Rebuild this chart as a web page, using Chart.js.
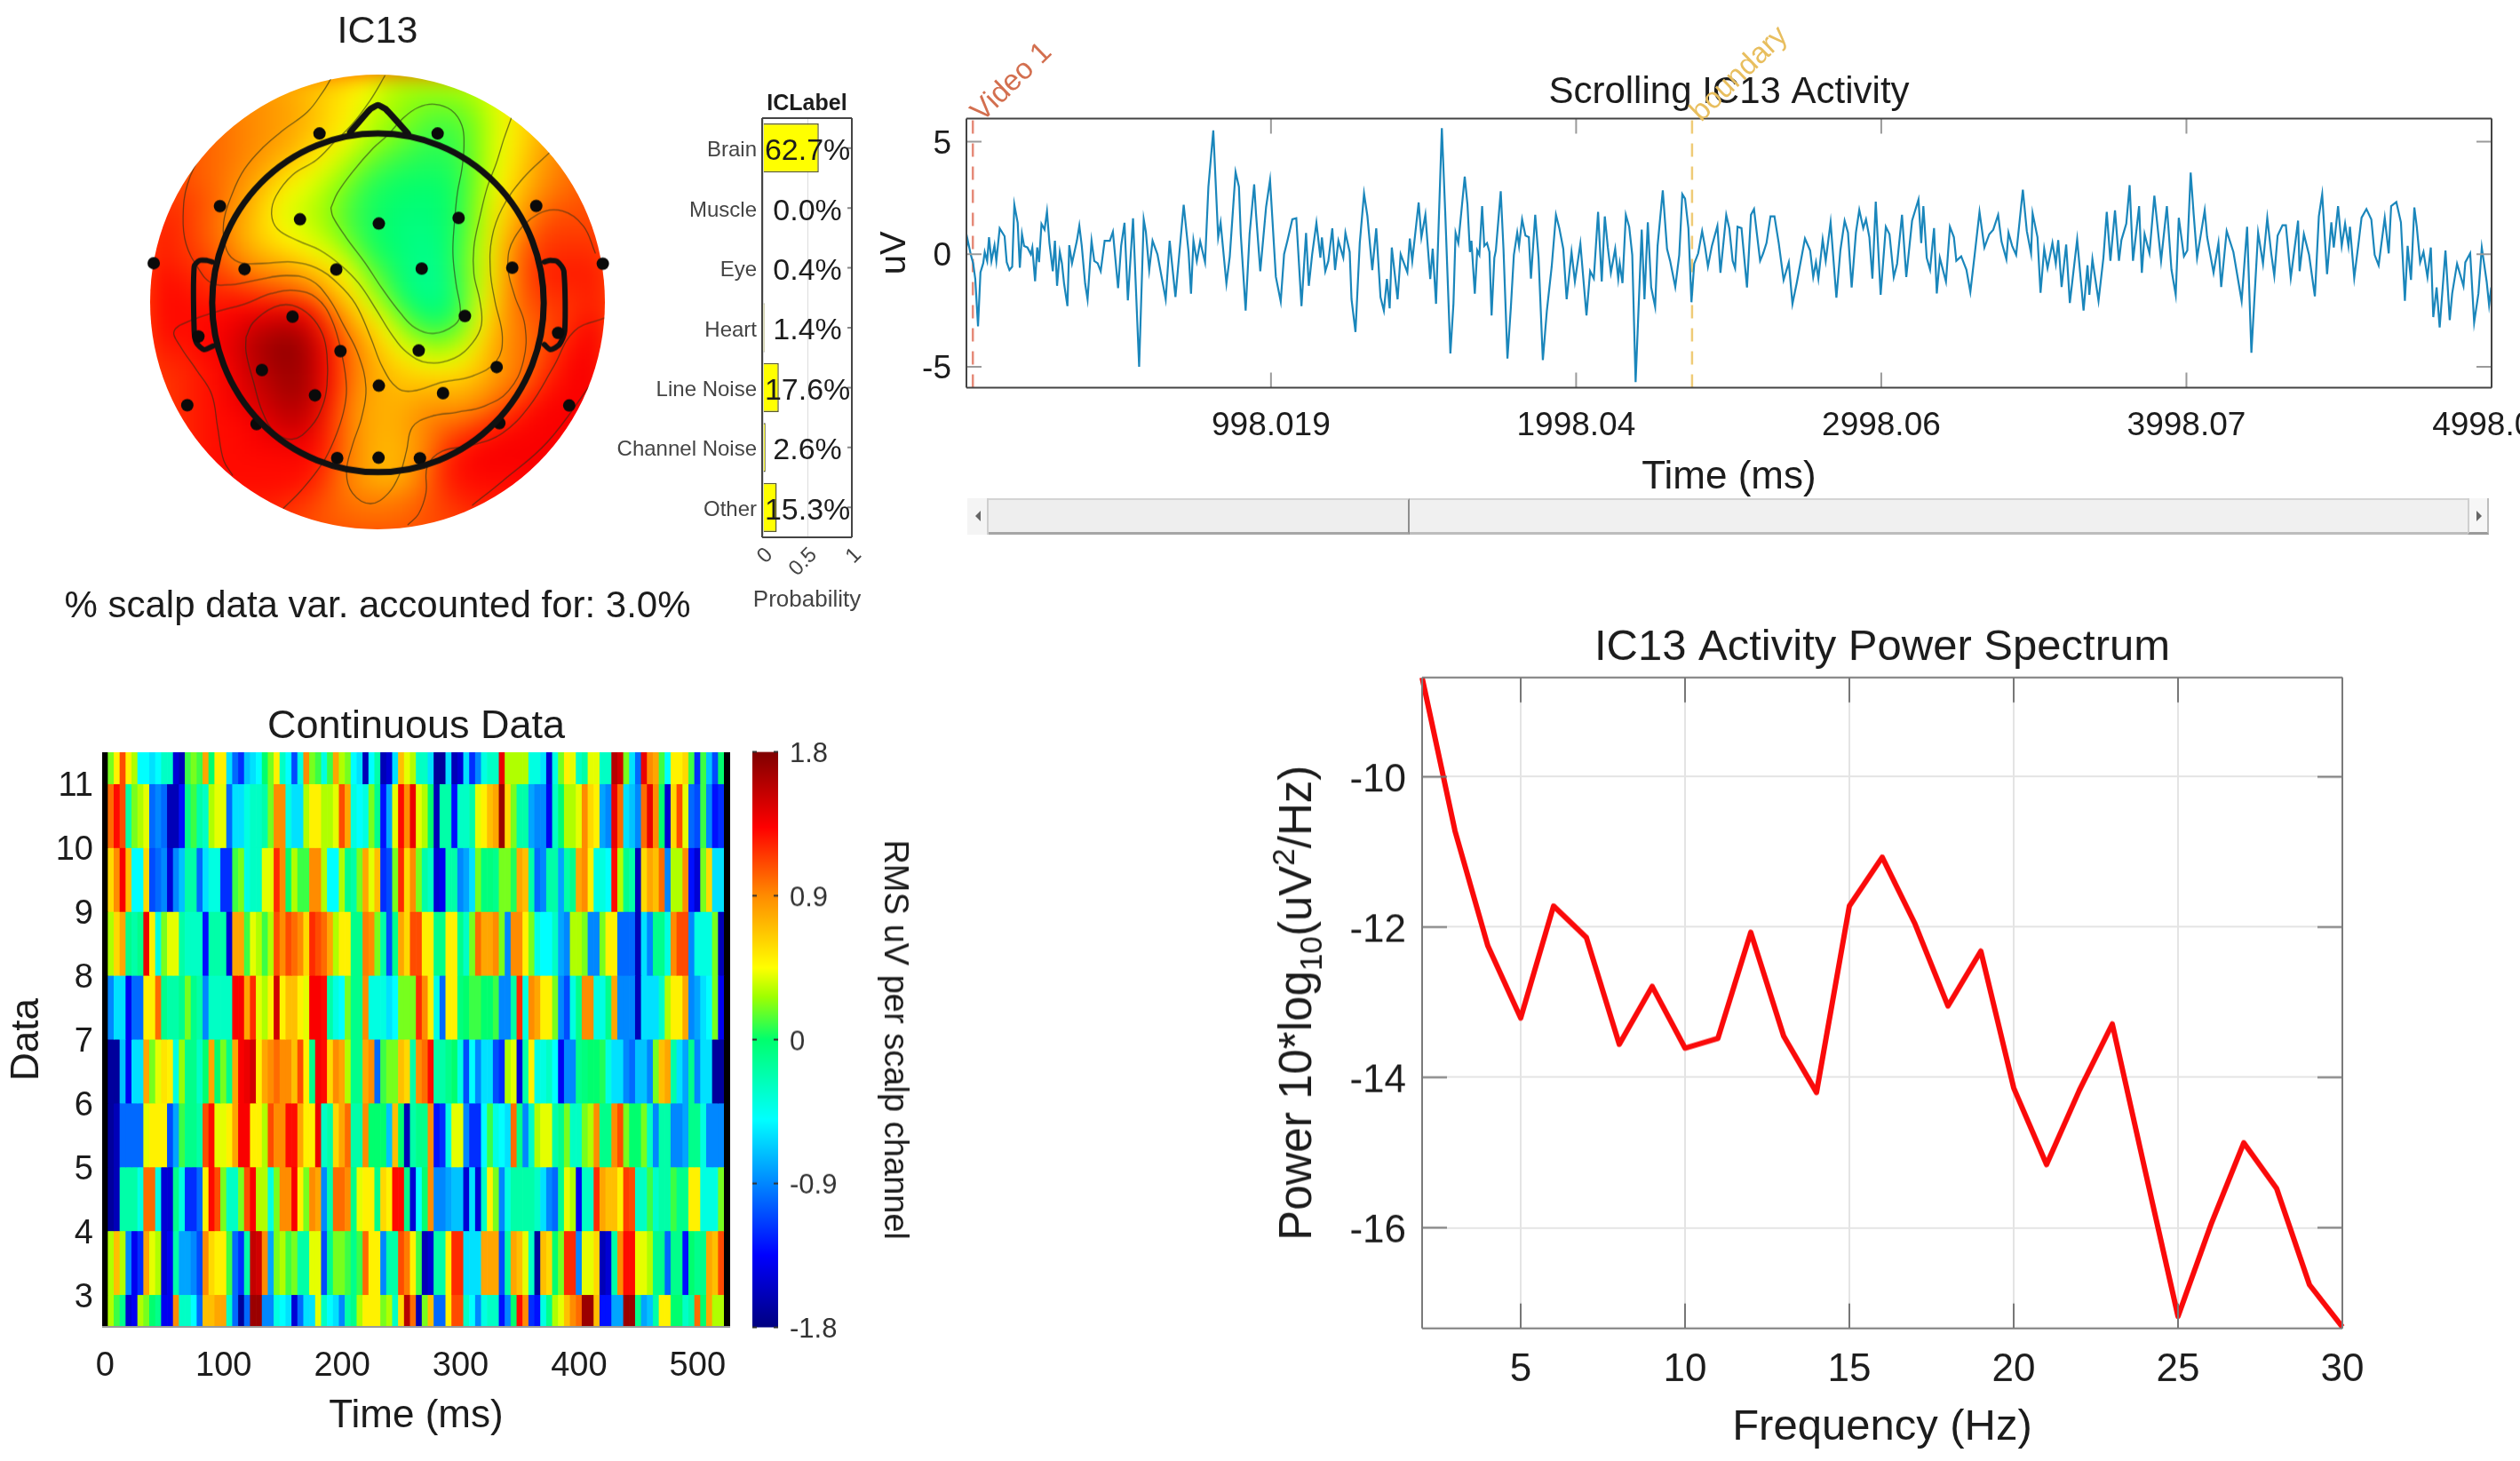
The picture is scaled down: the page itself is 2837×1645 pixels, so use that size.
<!DOCTYPE html>
<html>
<head>
<meta charset="utf-8">
<script src="https://cdn.jsdelivr.net/npm/chart.js@4/dist/chart.umd.min.js"></script>
<style>
  html, body { margin: 0; background: #fff; overflow: hidden; }
  #stage { position: relative; width: 2837px; height: 1645px; overflow: hidden; background: #fff; filter: blur(0.6px); }
  #stage canvas { position: absolute; }
  #topoClip { position: absolute; left: 169px; top: 84px; width: 512px; height: 512px; border-radius: 50%; overflow: hidden; }
  #topoClip canvas { filter: blur(13px); }
  .sb { position: absolute; box-sizing: border-box; background: #f0f0f0; }
  .arrow { position: absolute; width: 0; height: 0; border-top: 6px solid transparent; border-bottom: 6px solid transparent; }
</style>
</head>
<body>
<div id="stage">
  <div id="topoClip"></div>
  <div class="sb" style="left:1089px;top:561px;width:1713px;height:41px;border-top:2px solid #d4d4d4;border-bottom:3px solid #bdbdbd"></div>
  <div class="sb" style="left:1089px;top:561px;width:24px;height:41px;border-right:2px solid #cfcfcf;background:#f4f4f4"></div>
  <div class="sb" style="left:1113px;top:561px;width:474px;height:41px;border-top:2px solid #d4d4d4;border-right:2px solid #8e8e8e;border-bottom:3px solid #a6a6a6;background:#eeeeee"></div>
  <div class="sb" style="left:2778px;top:561px;width:24px;height:41px;border-left:2px solid #cfcfcf;border-right:2px solid #bdbdbd;border-bottom:3px solid #9a9a9a;background:#f6f6f6"></div>
  <div class="arrow" style="left:1098px;top:575px;border-right:6px solid #666"></div>
  <div class="arrow" style="left:2788px;top:575px;border-left:6px solid #666"></div>
</div>
<script>
// ---- colormap (value in uV -> colour)
const cmapAt = [-1.8, -1.35, -0.5, 0, 0.27, 0.45, 0.9, 1.33, 1.8];
const cmapRgb = [[0,0,128],[0,0,255],[0,255,255],[0,255,110],[160,255,0],[255,255,0],[255,140,0],[255,0,0],[128,0,0]];

// ---- IC label bars
const icCategories = ['Brain', 'Muscle', 'Eye', 'Heart', 'Line Noise', 'Channel Noise', 'Other'];
const icPercent = [62.7, 0.0, 0.4, 1.4, 17.6, 2.6, 15.3];
const icTicks = [0, 0.5, 1];

// ---- power spectrum
const psdHz = [2,3,4,5,6,7,8,9,10,11,12,13,14,15,16,17,18,19,20,21,22,23,24,25,26,27,28,29,30];
const psdPower = [-8.68,-10.72,-12.25,-13.21,-11.72,-12.14,-13.56,-12.79,-13.61,-13.48,-12.07,-13.45,-14.2,-11.72,-11.07,-11.96,-13.05,-12.32,-14.14,-15.16,-14.17,-13.29,-15.24,-17.18,-15.96,-14.87,-15.48,-16.76,-17.32];
const psdXTicks = [5,10,15,20,25,30];
const psdYTicks = [-10,-12,-14,-16];

// ---- scrolling activity [ms, uV]
const timeTicks = [998.019, 1998.04, 2998.06, 3998.07, 4998.09];
const timeTickLabels = ['998.019', '1998.04', '2998.06', '3998.07', '4998.09'];
const activityYTicks = [-5, 0, 5];
const eventNames = ['Video 1', 'boundary'];
const eventMs = [21, 2378];
const activity = [
[0,.3],[3,.7],[14,0],[22,-.4],[29,-1.1],[38,-3.2],[46,-.8],[55,-.4],[60,.1],[68,-.3],[74,.76],[82,-.3],[92,.4],[98,-.3],[109,1.15],[125,.8],[132,-.35],[141,-.7],[150,-.55],[157,2.2],[168,1.4],[175,-.6],[182,.9],[189,.37],[200,.3],[211,0],[216,.3],[225,-1.2],[232,.3],[238,-.35],[246,1.35],[256,1.1],[264,1.9],[272,.5],[283,-.75],[290,.6],[297,-1.4],[306,.1],[313,-.4],[320,-1.3],[331,-2.3],[337,.4],[346,-.4],[362,.6],[370,1.27],[378,.37],[389,-1.3],[397,-2],[410,.6],[419,-.3],[430,-.4],[440,-.75],[453,.6],[470,.6],[480,1],[497,-1.5],[507,.37],[518,1.4],[529,-2.05],[546,1.6],[566,-5],[581,1.55],[588,1],[599,-.7],[610,.6],[626,0],[653,-2],[666,.6],[685,-1.9],[712,2.2],[728,.1],[736,-1.75],[744,.6],[755,-.3],[766,.57],[782,-.35],[793,3],[809,5.5],[825,.75],[833,1.4],[852,-1.3],[863,-.1],[882,3.65],[893,3],[899,.9],[915,-2.5],[928,.9],[943,3.1],[949,1.8],[963,-.75],[982,2.1],[995,3.3],[1014,-1],[1030,-2.1],[1041,0],[1052,.6],[1068,1.55],[1081,1.6],[1098,-2.3],[1113,.95],[1122,-1.4],[1133,0],[1147,1.4],[1160,-.15],[1165,.75],[1176,-.75],[1186,-.3],[1199,1.15],[1208,-.7],[1219,.6],[1235,-.15],[1242,.95],[1256,.1],[1262,-2],[1275,-3.45],[1289,.5],[1303,2.7],[1314,1.7],[1330,-.7],[1343,1.15],[1357,-1.9],[1368,-2.5],[1378,-1.1],[1387,-2.4],[1394,.3],[1413,-2],[1423,0],[1445,-.8],[1453,.7],[1461,-.3],[1482,2.3],[1491,.75],[1504,1.75],[1520,-1.1],[1528,.25],[1539,-2.2],[1558,5.6],[1569,1.9],[1586,-4.4],[1596,-2.2],[1603,.95],[1612,.5],[1633,3.45],[1642,2.2],[1650,.1],[1655,.6],[1666,-1.75],
[1674,.17],[1681,-.03],[1690,2.14],[1697,.37],[1706,.5],[1714,.1],[1721,-2.72],[1730,-.16],[1735,.17],[1751,2.8],[1760,.24],[1773,-4.63],[1784,-2.39],[1794,-.03],[1805,.96],[1811,.37],[1821,1.55],[1832,.83],[1843,.76],[1850,-1.08],[1864,1.75],[1875,-.16],[1889,-4.7],[1902,-2.53],[1918,-.55],[1932,1.75],[1943,1.16],[1956,.24],[1967,-2],[1983,.1],[1994,-1.21],[2012,.47],[2032,-2.72],[2044,-.75],[2056,-1.08],[2070,1.88],[2082,-1.21],[2092,1.68],[2102,.3],[2112,-.82],[2126,.24],[2136,-1.08],[2141,-.42],[2150,-1.28],[2161,1.75],[2172,1.22],[2182,-.03],[2193,-5.68],[2213,1.09],[2222,-2],[2233,1.42],[2244,-1.47],[2257,-2.33],[2265,.37],[2282,2.84],[2296,.24],[2306,-.29],[2323,-1.45],[2336,-.03],[2346,2.67],[2355,2.47],[2366,1.16],[2376,-2.13],[2385,-.42],[2398,.04],[2411,1.03],[2420,.37],[2430,-.55],[2443,.37],[2461,1.26],[2471,-.82],[2490,1.75],[2500,1.16],[2511,-.29],[2519,-.62],[2527,1.22],[2540,1.16],[2558,-1.47],[2571,1.75],[2581,2.01],[2590,.96],[2601,-.29],[2611,.04],[2622,.5],[2635,1.68],[2648,1.68],[2662,.5],[2678,-1.14],[2695,-.36],[2707,-2.2],[2721,-1.28],[2748,.7],[2765,.17],[2775,-1.01],[2784,-.36],[2792,-1.08],[2806,.66],[2816,-.29],[2832,1.42],[2851,-1.93],[2864,.17],[2878,1.49],[2889,.96],[2901,-1.47],[2915,.96],[2926,1.97],[2939,1.16],[2948,1.55],[2959,.76],[2969,-1.08],[2980,2.34],[2996,-1.8],[3013,1.22],[3025,.89],[3039,-1.01],[3050,-.42],[3066,1.75],[3080,-1.01],[3099,1.49],[3120,2.43],[3129,.5],[3136,2.14],[3147,-.16],[3158,-.68],[3171,1.16],[3180,-1.74],[3190,-.16],[3210,-1.21],[3223,1.22],[3236,.76],[3244,-.29],[3260,-.09],[3277,-.68],[3290,-1.67],[3304,-.03],[3320,1.88],[3336,.3],[3352,.89],
[3365,1.09],[3381,1.75],[3392,.57],[3408,-.22],[3415,.96],[3427,.37],[3440,-.03],[3462,2.87],[3475,1.03],[3489,.04],[3494,1.82],[3510,.76],[3520,-1.71],[3532,.24],[3543,-.62],[3559,.5],[3570,-.42],[3578,.63],[3589,-1.45],[3604,.43],[3616,-2.16],[3640,.66],[3661,-2.5],[3674,-.49],[3680,-1.8],[3690,-.22],[3710,-2.07],[3726,-.16],[3737,1.88],[3749,-.29],[3764,1.95],[3777,-.29],[3785,.63],[3801,1.36],[3812,3.07],[3823,-.29],[3843,2.14],[3852,-.82],[3861,.89],[3877,.04],[3893,2.6],[3915,-.29],[3934,2.14],[3949,-.68],[3963,-1.8],[3973,1.62],[3990,-.09],[4001,.17],[4012,3.63],[4022,1.75],[4033,-.16],[4058,1.95],[4066,.76],[4087,-.82],[4103,.5],[4112,-1.45],[4130,1.03],[4152,.1],[4179,-2.07],[4197,1.22],[4211,-4.37],[4233,.96],[4249,-.42],[4263,1.62],[4276,.04],[4286,-.95],[4297,.83],[4313,1.29],[4324,1.29],[4340,-1.05],[4364,1.49],[4369,-.75],[4383,.89],[4400,-.03],[4419,-1.87],[4432,1.68],[4443,2.67],[4459,-.88],[4473,1.42],[4481,.3],[4495,2.14],[4507,.37],[4518,1.36],[4529,.37],[4534,1.22],[4548,-1.05],[4561,.37],[4572,1.62],[4588,2.01],[4604,1.55],[4615,-.03],[4628,-.49],[4648,1.62],[4661,.04],[4669,2.14],[4686,2.32],[4701,1.42],[4714,-2.07],[4723,.37],[4734,-1.14],[4745,2.08],[4753,1.22],[4764,-.36],[4775,.1],[4788,-1.01],[4799,.3],[4807,-2.79],[4818,-1.47],[4828,-3.25],[4847,.17],[4861,-2.92],[4869,-1.74],[4885,-.42],[4906,-1.41],[4912,-.36],[4928,.04],[4941,-3.03],[4955,-1.74],[4966,.3],[4982,-1.21],[4990,-2.26],[4997,-1.47]
];

// ---- continuous data image, one list per band, 5 ms columns (null = black edge)
const heatXTicks = [0,100,200,300,400,500];
const heatYTicks = [3,4,5,6,7,8,9,10,11];
const cbarTicks = [-1.8,-0.9,0,0.9,1.8];
const heatBandEdges = [[11,11.5],[10,11],[9,10],[8,9],[7,8],[6,7],[5,6],[4,5],[3,4],[2.5,3]];
const band1 = [null,.2,.5,1.1,.5,.3,-.5,-.5,-.6,-.5,-.3,-.3,-1.5,-1.6,.1,.2,.1,.8,0,.5,.5,-.6,-1,-1.2,-.7,-.6,-.5,0,.2,.5,-.3,-.5,-1.1,-.4,.9,.2,.1,
 -.4,.1,.8,.3,.2,-.5,-.6,-1.6,-.5,-.2,-1.6,-1.5,-.6,.7,.4,.3,-.3,-.3,-.6,-1.7,-1.7,-.6,-1.6,-1.5,-.6,-1.2,-.9,-.4,-.3,-.3,1.4,.3,.3,.3,.3,-.4,
 -.4,-.6,-1.5,-.4,.2,.5,.4,-.3,-.2,.4,.4,-.3,-.3,1.6,1.5,.2,-.6,-1,1.4,.9,.8,.1,-.5,.5,.5,.6,.1,-1.2,.1,-.7,-1.1,0,null];
const band2 = [null,1,1.3,1.1,-.2,.2,.3,.4,-1,-.9,-1,-1.6,-1.6,-1.3,-.1,.1,-.2,-.3,.3,.4,.4,-1,-.6,-.6,-.4,-.3,-.3,-.2,.2,.9,.9,-.4,-.6,-.6,.3,.5,.5,
 .3,.3,.4,1.1,.8,-.4,-.5,-.4,.2,-.1,-1.3,-.8,.4,1.3,.9,1.4,.4,.3,0,-1.6,-.2,-.2,-1.3,-.3,-.3,-.2,.4,.5,.7,.8,1.7,.6,.2,-.2,-.2,-.8,
 -.9,-.9,-1.4,-.3,0,.3,.3,.4,.9,.6,.5,-.8,-.9,1.4,1,-.6,-.7,-.9,1,1.4,.9,0,-1.5,.6,1.1,.4,-1,-1.1,.1,-.9,-1.3,-1.2,null];
const band3 = [null,.6,.9,1.35,.7,-.5,-.5,.6,-1.1,-1,-.9,-1.5,-.9,-.7,-.2,-.2,-1,-.6,-.4,-.4,-1.2,-1.2,.1,.2,-.4,-.3,-.3,.4,.4,1.2,.9,0,.3,.1,.1,.9,.9,
 .3,-.5,-.5,.3,-.1,-.2,.2,.8,.4,.7,-1.2,-1.1,.2,1.2,.6,.9,.2,-.2,-.3,-1.5,-1.4,-.2,-.2,-.9,-.8,-.6,.2,-.05,-.05,-.1,.2,.2,.05,.8,.7,-.2,
 -1,-.9,-.2,-.2,-.8,-.2,-.1,.8,.9,.5,-.4,-.4,-.5,1.3,.3,-.1,-.2,-1.6,.6,.8,.7,1,-.9,.3,.3,.9,-1.3,-1.5,.2,.6,-.6,-.6,null];
const band4 = [null,.3,.6,.8,-.1,-.2,-.1,1.4,.5,-.4,.2,.4,.4,-.2,-.3,-.3,-.3,-1.3,-.2,-.2,-.2,-1.5,.8,.8,.1,.4,.3,.1,.3,1.1,.9,1.1,1,.9,.6,1.2,1.1,
 1,.8,.3,.5,.5,-.1,-.1,.95,.9,.2,-.2,-1.1,-.1,.8,.6,1.1,1.1,.5,.5,-.1,-.1,.5,.5,-.1,-.3,.2,1,.8,.8,.9,.2,-.9,.9,.9,.5,.2,
 -.4,-.5,-.5,-.3,-.8,-.9,.3,.3,.2,-.9,-.9,.2,.5,.5,-1,-1,-1,-1.6,-.6,-.9,-.1,-.1,-.4,.9,1.1,1.1,-.9,-.4,-.4,-.4,.2,-1.6,null];
const band5 = [null,-.9,-.6,-.6,-1.4,-1,-1,.5,.5,1,-.1,-.2,-.2,-.1,.2,-.1,-.2,-.9,-.3,-.3,-.3,-.3,1.35,1.35,.8,1.2,.4,.3,.5,1.5,.5,.7,.7,.5,.4,1.35,1.35,
 1.3,-.2,-.4,-.5,.2,-.1,-.1,.9,-.4,-.4,-.4,-.6,-.5,.2,.2,.2,1.2,.9,.5,-.4,-1,.5,.5,-.05,0,.1,.1,0,0,.1,-.9,-.9,-.2,1.2,-.4,.9,
 .8,.5,.5,.2,-.9,-1.1,-.4,-.1,.9,.9,-.4,-.4,-.1,.8,-.9,-.9,-.9,-1.6,-.6,-.6,-.6,-.3,.3,.5,.5,.8,-.9,-.8,-.6,-.5,.2,-1.4,null];
const band6 = [null,-1.7,-1.7,-.7,-1.4,-.6,-.6,.8,.2,.4,.55,.5,-.4,.25,-.1,-.1,-.3,0,.8,0,.2,-.1,.8,1.35,1.4,1.5,.5,.8,.9,1,.9,.9,.7,1.1,.5,-.1,1.35,
 1.3,.6,.9,.8,.3,-.1,-.1,.8,.9,-1,.1,.2,.2,.7,.6,-.2,.9,1,1.3,-.2,-.2,-.1,0,-.4,-1.1,-.5,-.9,-.6,-.6,-1.1,-1.2,.3,.4,-1.5,-.2,.5,
 -.4,-.4,-.3,-.5,-1.4,-.9,-.9,-.1,-.05,0,0,.05,-.4,-.6,-.6,-.9,-1,-.7,-.7,-.9,.2,.7,.8,-.2,-.6,-.8,-.1,-.9,-.6,-.6,-1.7,-1.7,null];
const band7 = [null,-1.7,-1.6,-1,-1,-1,-1,.4,.5,.5,.5,-1.1,-.8,.1,-.1,-.1,-.2,1.1,1.3,.4,.4,.5,.8,1.35,1.35,.5,.5,.3,1.1,.9,.9,1.3,1.3,.8,.5,.5,1.4,-.3,
 -.2,.6,.8,1,-.2,-.2,.9,0,0,0,-.7,.7,0,-1.6,-.2,-.1,-.1,.9,-1.3,-1.2,-.4,.4,.4,-.9,-1.2,-1.2,-.5,.1,-.4,-.5,-.6,1,-.1,-.9,-.3,
 .3,.4,.4,-.2,-.1,.2,-.3,-.3,.2,.3,.9,-.1,-.1,.9,1.1,.2,0,0,.2,-.3,-.9,-.2,-.2,-.9,-.9,-.8,-.1,-.1,-.4,-.9,-.9,-.9,null];
const band8 = [null,-1.7,-1.6,-.2,-.2,-.2,-.4,1,1,-.4,-1.5,-1.5,-.1,-.4,-1.2,-1.2,-1,.5,1.3,1.1,.2,-.3,-.3,.2,1.1,1.35,.3,.3,-.4,.2,.9,.9,1.35,.5,.2,.9,.8,-.9,
 -.2,1,1,.9,-.1,.4,.5,.5,-.1,.6,.5,1.3,1.3,-.1,-1.5,-.5,0,.9,-.9,-.9,-.8,-.7,-.7,-1.5,-.6,-1.5,-.3,.5,.2,-.9,-.4,-.2,-.2,-.2,-.2,
 -.3,-.6,-.9,-1,-.1,.4,.3,-1.4,-.3,-.3,1.2,.8,.7,.7,.5,1.15,1.1,-.3,-.3,.1,-.3,-.2,-.2,.1,-.1,-.1,.5,.5,-.4,-.4,-.4,.2,null];
const band9 = [null,.3,.7,.3,-.9,-1.4,-1.2,.8,.4,.3,-1.5,-1.4,-.2,-.8,-.8,-.9,-1.1,.9,.6,.5,.5,.1,-1,-1.2,-.2,1.55,1.5,.9,-.8,.2,.3,.1,.2,-.2,-.2,.4,.4,-1.1,
 -.1,.2,.2,.1,-.1,.1,1,.5,.5,-.9,-.2,-.2,1.1,.95,.5,.1,-1.6,-1.5,-.2,-.2,.5,1.2,1.2,-.6,-.6,-.6,.8,.8,.8,-1.1,-.2,.8,.7,.4,-.3,
 -1.7,.7,.6,0,.2,1.2,1.2,-.9,.4,.4,.6,-1.6,-1.5,-.2,.9,1.3,1.3,.4,.4,.3,-.1,-.1,-1,-.1,-.1,-1.3,0,-.1,-.1,.8,.7,1.1,null];
const band10 = [null,.3,.1,-.1,-1.5,-1.4,.3,.2,0,-.1,-1.4,-1.4,.9,-.3,-.3,-.5,-1,.7,.7,.8,.8,-.3,-1,-1.7,-1,1.7,1.7,-.9,-.9,-.4,-.5,-.6,-1.5,-1,-.6,-.6,.4,-.3,
 -.5,-.6,-.9,-.2,-.1,.3,.5,.5,.5,.2,.3,-.3,.6,1.6,1,-1.6,.2,.7,-1,-1,.5,1.1,1.1,-.3,-.5,-.9,-.4,-.3,-.3,-1.3,-.9,0,1.3,.9,-1.2,
 -1.3,-.4,-.1,.3,.4,.7,.9,1,1.7,1.7,.7,-1.3,-1.3,-.8,-.8,1.7,1.7,-.1,-.8,-.7,-.2,.5,.5,0,0,-.3,-.2,1,0,.8,.3,.3,null];
const heatBands = [band1, band2, band3, band4, band5, band6, band7, band8, band9, band10];

// ---- scalp map: 24 x 24 grid of values, top row first
const topoGrid = [
[.9,.9,.9,.9,.9,.85,.8,.75,.7,.65,.55,.45,.35,.3,.3,.3,.3,.35,.45,.6,.7,.8,.9,.9],
[1,1,1,.95,.9,.9,.85,.8,.7,.6,.5,.4,.3,.25,.2,.2,.22,.3,.42,.55,.7,.8,.9,.95],
[1,1,1,1,.95,.9,.85,.8,.72,.6,.5,.35,.28,.22,.15,.12,.15,.25,.4,.55,.7,.8,.95,1],
[1.1,1.1,1.05,1,.95,.9,.85,.78,.65,.55,.42,.3,.22,.15,.1,.08,.12,.25,.42,.55,.75,.85,.95,1],
[1.1,1.1,1.05,1,.95,.88,.78,.68,.55,.42,.3,.2,.12,.08,.05,.05,.1,.25,.42,.58,.8,.9,1,1.05],
[1.1,1.1,1.05,1,.92,.82,.68,.52,.42,.32,.22,.1,.05,.02,.02,.02,.08,.25,.45,.65,.82,.95,1,1.05],
[1.15,1.15,1.1,1.02,.9,.75,.55,.42,.35,.25,.15,.05,.02,0,-.02,0,.08,.28,.5,.72,.9,1,1.05,1.1],
[1.2,1.2,1.1,1,.85,.7,.5,.38,.32,.25,.12,.05,0,-.05,-.05,-.02,.08,.3,.55,.8,1,1.1,1.1,1.1],
[1.25,1.2,1.1,1,.85,.68,.55,.45,.38,.28,.16,.05,0,-.05,-.08,-.03,.1,.32,.6,.9,1.1,1.15,1.15,1.15],
[1.25,1.2,1.15,1.05,.92,.78,.7,.62,.5,.42,.28,.1,.02,-.05,-.1,-.05,.12,.35,.65,1,1.15,1.2,1.2,1.2],
[1.3,1.25,1.2,1.15,1.05,.95,.9,.85,.75,.6,.45,.22,.08,-.05,-.12,-.08,.12,.35,.65,1,1.2,1.25,1.25,1.25],
[1.3,1.3,1.25,1.2,1.2,1.15,1.1,1.05,.95,.78,.55,.35,.15,-.02,-.1,-.08,.1,.38,.7,1,1.15,1.2,1.2,1.25],
[1.3,1.3,1.3,1.3,1.35,1.35,1.4,1.4,1.3,1,.75,.5,.3,.1,-.02,-.02,.12,.42,.75,.98,1.1,1.15,1.2,1.25],
[1.3,1.3,1.3,1.35,1.4,1.55,1.6,1.65,1.5,1.2,.9,.7,.45,.25,.12,.1,.22,.5,.8,.95,1.05,1.15,1.25,1.35],
[1.25,1.25,1.3,1.35,1.45,1.6,1.7,1.75,1.6,1.3,1,.8,.6,.42,.32,.28,.38,.6,.85,.95,1.05,1.2,1.3,1.35],
[1.2,1.2,1.25,1.3,1.4,1.55,1.65,1.7,1.6,1.3,1,.85,.7,.6,.52,.5,.55,.68,.85,.95,1.1,1.25,1.35,1.35],
[1.15,1.2,1.25,1.3,1.4,1.5,1.6,1.7,1.6,1.3,1,.8,.75,.7,.72,.72,.72,.8,.92,1,1.2,1.3,1.35,1.35],
[1.15,1.2,1.25,1.3,1.35,1.45,1.55,1.6,1.55,1.25,.95,.8,.75,.78,.85,.85,.85,.92,1.05,1.2,1.3,1.35,1.35,1.35],
[1.15,1.2,1.25,1.3,1.3,1.35,1.45,1.55,1.45,1.2,.95,.8,.75,.8,.92,1,1.05,1.15,1.25,1.3,1.35,1.35,1.35,1.3],
[1.15,1.2,1.25,1.3,1.3,1.35,1.35,1.4,1.35,1.2,.95,.8,.72,.78,.9,1.1,1.25,1.3,1.35,1.35,1.35,1.35,1.3,1.3],
[1.2,1.2,1.25,1.3,1.3,1.3,1.3,1.3,1.3,1.15,.95,.8,.72,.78,.95,1.2,1.3,1.35,1.35,1.35,1.35,1.35,1.3,1.3],
[1.2,1.2,1.25,1.3,1.3,1.3,1.3,1.3,1.25,1.1,.92,.82,.75,.82,.98,1.2,1.28,1.3,1.3,1.3,1.35,1.3,1.3,1.3],
[1.2,1.2,1.2,1.25,1.25,1.25,1.25,1.2,1.15,1.05,.98,.95,.95,.98,1.05,1.15,1.22,1.25,1.25,1.3,1.3,1.3,1.3,1.3],
[1.2,1.2,1.2,1.2,1.2,1.2,1.2,1.15,1.1,1.05,1.02,1,1,1.02,1.08,1.12,1.15,1.2,1.2,1.2,1.2,1.2,1.2,1.2]
];

// ---- scalp overlay, in map units (0..1568, y down)
const electrodes = [[590,222],[984,222],[258,464],[1313,463],[525,508],[788,522],[1054,503],[37,654],[1535,656],[340,674],[646,675],[931,672],[1233,669],[500,832],[1075,830],[186,898],[1386,886],[660,947],[921,945],[398,1010],[1181,1000],[788,1062],[1002,1087],[575,1094],[149,1127],[1423,1128],[380,1190],[1190,1187],[649,1303],[787,1302],[925,1304]];
const headRing = [785, 786, 553, 564];
const nose = [[692,218],[760,140],[785,128],[810,140],[885,222]];
const earLeft = [[232,650],[215,645],[190,645],[172,665],[172,880],[180,920],[205,942],[235,930]];
const earRight = [[1340,650],[1360,645],[1385,650],[1405,680],[1408,880],[1390,925],[1360,942],[1340,925]];
const contourA = [[628,470],[650,420],[700,350],[770,270],[815,230],[870,170],[920,135],[975,125],[1030,145],[1065,195],[1072,260],[1065,340],[1050,420],[1040,520],[1035,620],[1045,720],[1060,820],[1040,860],[970,888],[910,870],[860,820],[800,740],[740,650],[680,570],[635,500],[628,470]];
const contourB = [[808,30],[760,110],[700,190],[640,250],[580,310],[500,360],[445,430],[430,490],[450,540],[520,580],[590,610],[660,660],[720,720],[780,810],[830,890],[880,950],[950,985],[1040,970],[1100,920],[1130,860],[1125,780],[1105,690],[1105,600],[1125,500],[1150,400],[1180,320],[1205,240],[1230,170]];
const contourC = [[628,40],[600,85],[550,150],[470,210],[400,270],[340,340],[300,420],[270,520],[280,610],[320,650],[400,655],[500,650],[580,670],[650,720],[710,790],[760,900],[800,1000],[850,1070],[900,1080],[1000,1050],[1100,1030],[1180,980],[1200,900],[1175,780],[1160,680],[1165,570],[1200,470],[1270,370],[1358,285]];
const contourD = [[260,230],[200,290],[150,390],[135,500],[145,590],[185,670],[230,720],[300,725],[380,710],[480,695],[560,710],[620,770],[670,860],[720,960],[745,1070],[730,1170],[700,1260],[680,1350],[700,1420],[760,1455],[820,1420],[860,1350],[880,1280],[900,1200],[960,1165],[1050,1150],[1140,1130],[1220,1080],[1270,980],[1275,860],[1240,760],[1218,660],[1240,570],[1320,490],[1400,480],[1470,530],[1510,620]];
const contourE = [[300,1360],[270,1310],[250,1200],[230,1090],[180,1010],[125,930],[105,880],[160,845],[250,815],[340,790],[430,755],[510,745],[580,770],[630,840],[665,960],[680,1070],[670,1150],[640,1240],[600,1320],[530,1410],[470,1470]];
const contourF = [[345,900],[370,850],[440,800],[500,795],[560,830],[600,890],[615,960],[615,1060],[600,1130],[560,1200],[500,1240],[440,1215],[400,1150],[370,1050],[345,950],[345,900]];
const contourG = [[885,1525],[920,1490],[945,1420],[950,1330],[1000,1280],[1100,1260],[1200,1220],[1290,1130],[1370,1000],[1440,880],[1545,835]];
const contourH = [[1100,1460],[1200,1380],[1350,1250],[1500,1050]];
const contours = [contourA, contourB, contourC, contourD, contourE, contourF, contourG, contourH];

const FONT = '"Liberation Sans", Arial, sans-serif';
const INK = '#1c1c1c';
Chart.defaults.font.family = FONT;
Chart.defaults.color = INK;
Chart.defaults.animation = false;
Chart.defaults.responsive = false;
Chart.defaults.maintainAspectRatio = false;
Chart.defaults.devicePixelRatio = 1;
Chart.defaults.plugins.legend.display = false;
Chart.defaults.plugins.tooltip.enabled = false;

function cmap(v) {
  if (v === null) return '#000000';
  let i = 0;
  while (i < cmapAt.length - 2 && v > cmapAt[i + 1]) i++;
  const f = Math.min(1, Math.max(0, (v - cmapAt[i]) / (cmapAt[i + 1] - cmapAt[i])));
  const c = cmapRgb[i].map((a, n) => Math.round(a + (cmapRgb[i + 1][n] - a) * f));
  return `rgb(${c[0]},${c[1]},${c[2]})`;
}

// box and inward ticks, MATLAB style, drawn from the scales
const boxTicks = {
  id: 'boxTicks',
  afterDatasetsDraw(chart, _args, o) {
    if (!o.color) return;
    const { ctx, chartArea: a, scales } = chart;
    const box = o.box ?? 'tblr', marks = o.ticks ?? 'tblr', len = o.len ?? 10;
    ctx.save();
    ctx.lineWidth = o.width ?? 2;
    ctx.strokeStyle = o.tickColor ?? o.color;
    ctx.beginPath();
    (scales.x?.ticks || []).forEach(t => {
      if (!scales.x.options.display || o.noX) return;
      const px = scales.x.getPixelForValue(t.value);
      if (marks.includes('b')) { ctx.moveTo(px, a.bottom); ctx.lineTo(px, a.bottom - len); }
      if (marks.includes('t')) { ctx.moveTo(px, a.top); ctx.lineTo(px, a.top + len); }
    });
    (scales.y?.ticks || []).forEach(t => {
      const py = scales.y.getPixelForValue(t.value);
      if (marks.includes('l')) { ctx.moveTo(a.left, py); ctx.lineTo(a.left + len, py); }
      if (marks.includes('r')) { ctx.moveTo(a.right, py); ctx.lineTo(a.right - len, py); }
    });
    ctx.stroke();
    ctx.strokeStyle = o.color;
    ctx.beginPath();
    if (box.includes('t')) { ctx.moveTo(a.left, a.top); ctx.lineTo(a.right, a.top); }
    if (box.includes('b')) { ctx.moveTo(a.left, a.bottom); ctx.lineTo(a.right, a.bottom); }
    if (box.includes('l')) { ctx.moveTo(a.left, a.top); ctx.lineTo(a.left, a.bottom); }
    if (box.includes('r')) { ctx.moveTo(a.right, a.top); ctx.lineTo(a.right, a.bottom); }
    ctx.stroke();
    ctx.restore();
  }
};
Chart.register(boxTicks);

// create the chart, then size and shift its canvas so the plot area lands on the target box
function mount(parent, target, config) {
  const canvas = document.createElement('canvas');
  canvas.width = target.w + 400;
  canvas.height = target.h + 400;
  parent.appendChild(canvas);
  const chart = new Chart(canvas, config);
  const a0 = chart.chartArea;
  chart.resize(canvas.width + target.w - (a0.right - a0.left), canvas.height + target.h - (a0.bottom - a0.top));
  const a = chart.chartArea;
  canvas.style.left = (target.x - a.left) + 'px';
  canvas.style.top = (target.y - a.top) + 'px';
  return chart;
}

const fixW = w => s => { s.width = w; };
const fixH = h => s => { s.height = h; };
const setTicks = list => s => { s.ticks = list.map(v => ({ value: v })); };
const noGrid = { display: false, drawTicks: false };
const stage = document.getElementById('stage');

// centred text under a plot; scale titles get squeezed to the plot width, this does not
const underText = (text, size, color, dy) => ({
  id: 'underText',
  afterDraw(chart) {
    const { ctx, chartArea: a } = chart;
    ctx.save();
    ctx.font = `${size}px ${FONT}`;
    ctx.fillStyle = color;
    ctx.textAlign = 'center';
    ctx.textBaseline = 'middle';
    ctx.fillText(text, (a.left + a.right) / 2, a.bottom + dy);
    ctx.restore();
  }
});

// ---- scalp map cells (blurred by the page, clipped to the round outline)
mount(document.getElementById('topoClip'), { x: 0, y: 0, w: 512, h: 512 }, {
  type: 'bar',
  data: {
    labels: topoGrid[0].map((_, i) => String(i)),
    datasets: topoGrid.map((row, r) => ({
      data: row.map(() => [23 - r, 24 - r]),
      backgroundColor: row.map(cmap),
      grouped: false, barPercentage: 1.1, categoryPercentage: 1, borderWidth: 0
    }))
  },
  options: {
    layout: { padding: 40 },
    scales: { x: { display: false }, y: { display: false, min: 0, max: 24 } }
  },
  plugins: [{
    id: 'topoBack',
    beforeDraw(chart) {
      chart.ctx.fillStyle = '#ff4a00';
      chart.ctx.fillRect(0, 0, chart.width, chart.height);
    }
  }]
});

// ---- scalp overlay: contours, head, electrodes
const lineSet = (pts, color, width, tension) => ({
  data: pts.map(p => ({ x: p[0], y: p[1] })),
  showLine: true, pointRadius: 0, borderColor: color, borderWidth: width,
  tension, borderCapStyle: 'round', borderJoinStyle: 'round', clip: false
});
const firstContour = 4;
mount(stage, { x: 169, y: 84, w: 512, h: 512 }, {
  type: 'scatter',
  data: {
    datasets: [
      { data: electrodes.map(p => ({ x: p[0], y: p[1] })), pointRadius: 7, backgroundColor: '#0a0a0a', borderWidth: 0, clip: false },
      lineSet(nose, '#111', 7, 0.15),
      lineSet(earLeft, '#111', 6, 0.25),
      lineSet(earRight, '#111', 6, 0.25),
      ...contours.map(c => lineSet(c, 'rgba(40,45,25,0.62)', 1.3, 0.4))
    ]
  },
  options: {
    layout: { padding: { left: 130, right: 130, top: 6 } },
    plugins: {
      title: { display: true, text: 'IC13', fullSize: false, font: { size: 43, weight: 'normal' }, color: INK, padding: { top: 0, bottom: 22 } }
    },
    scales: {
      x: {
        min: 25, max: 1542,
        ticks: { display: false }, grid: noGrid, border: { display: false },
        afterFit: fixH(109)
      },
      y: { min: 25, max: 1542, reverse: true, display: false }
    }
  },
  plugins: [{
    id: 'contourClip',
    beforeDatasetDraw(chart, args) {
      if (args.index < firstContour) return;
      const a = chart.chartArea;
      chart.ctx.save();
      chart.ctx.beginPath();
      chart.ctx.ellipse((a.left + a.right) / 2, (a.top + a.bottom) / 2, (a.right - a.left) / 2, (a.bottom - a.top) / 2, 0, 0, Math.PI * 2);
      chart.ctx.clip();
    },
    afterDatasetDraw(chart, args) {
      if (args.index >= firstContour) chart.ctx.restore();
    }
  }, {
    id: 'headOutline',
    afterDatasetsDraw(chart) {
      const { ctx, scales: { x, y } } = chart;
      ctx.save();
      ctx.lineWidth = 7;
      ctx.strokeStyle = '#111';
      ctx.beginPath();
      ctx.ellipse(x.getPixelForValue(headRing[0]), y.getPixelForValue(headRing[1]),
        Math.abs(x.getPixelForValue(headRing[0] + headRing[2]) - x.getPixelForValue(headRing[0])),
        Math.abs(y.getPixelForValue(headRing[1] + headRing[3]) - y.getPixelForValue(headRing[1])), 0, 0, Math.PI * 2);
      ctx.stroke();
      ctx.restore();
    }
  }, underText('% scalp data var. accounted for: 3.0%', 42, INK, 87)]
});

// ---- ICLabel bars
mount(stage, { x: 858, y: 133, w: 101, h: 472 }, {
  type: 'bar',
  data: {
    labels: icCategories,
    datasets: [{
      data: icPercent.map(p => p / 100),
      backgroundColor: '#ffff00', borderColor: '#5a5a30', borderWidth: 1.5,
      barPercentage: 0.82, categoryPercentage: 1
    }]
  },
  options: {
    indexAxis: 'y',
    layout: { padding: { right: 40, top: 6 } },
    plugins: {
      title: { display: true, text: 'ICLabel', fullSize: false, font: { size: 25, weight: 'bold' }, color: INK, padding: { top: 0, bottom: 1 } },
      boxTicks: { color: '#444', box: 'tblr', ticks: 'r', len: 5, width: 2, tickColor: '#888' }
    },
    scales: {
      x: {
        min: -0.012, max: 1, afterBuildTicks: setTicks(icTicks),
        border: { display: false },
        grid: { color: '#dddddd', lineWidth: 1, drawTicks: false },
        ticks: { font: { size: 24 }, color: '#444', minRotation: 45, maxRotation: 45, autoSkip: false, padding: 6, labelOffset: 7, callback: v => String(v) },
        afterFit: fixH(87)
      },
      y: {
        border: { display: false },
        grid: noGrid,
        ticks: { font: { size: 24 }, color: '#444', padding: 6, autoSkip: false, labelOffset: 3 },
        afterFit: fixW(190)
      }
    }
  },
  plugins: [{
    id: 'percentText',
    afterDatasetsDraw(chart) {
      const { ctx, scales: { x, y } } = chart;
      ctx.save();
      ctx.font = `34px ${FONT}`;
      ctx.fillStyle = INK;
      ctx.textAlign = 'center';
      ctx.textBaseline = 'middle';
      icPercent.forEach((p, i) => ctx.fillText(p.toFixed(1) + '%', x.getPixelForValue(0.5), y.getPixelForValue(i) + 4));
      ctx.restore();
    }
  }, underText('Probability', 26, '#444', 71)]
});

// ---- scrolling activity
mount(stage, { x: 1088, y: 133, w: 1717, h: 303 }, {
  type: 'line',
  data: {
    datasets: [
      { data: activity.map(p => ({ x: p[0], y: p[1] })), borderColor: '#1a86bb', borderWidth: 2.2, pointRadius: 0, tension: 0 },
      ...eventMs.map((t, i) => ({
        data: [{ x: t, y: -5.92 }, { x: t, y: 6.03 }],
        borderColor: ['#e58a78', '#efcb76'][i], borderWidth: 2.5, borderDash: [15, 11], pointRadius: 0
      }))
    ]
  },
  options: {
    layout: { padding: { top: 60, right: 110 } },
    plugins: {
      title: { display: true, text: 'Scrolling IC13 Activity', fullSize: false, font: { size: 42, weight: 'normal' }, color: INK, padding: { top: 0, bottom: 4 } },
      boxTicks: { color: '#444', len: 17, width: 2, tickColor: '#9a9a9a' }
    },
    scales: {
      x: {
        type: 'linear', min: 0, max: 4998.09, afterBuildTicks: setTicks(timeTicks),
        grid: noGrid, border: { display: false },
        ticks: { font: { size: 37 }, color: INK, maxRotation: 0, autoSkip: false, padding: 21,
          callback: v => timeTickLabels[timeTicks.indexOf(v)] },
        title: { display: true, text: 'Time (ms)', font: { size: 44 }, color: INK, padding: 0 },
        afterFit: fixH(128)
      },
      y: {
        min: -5.92, max: 6.03, afterBuildTicks: setTicks(activityYTicks),
        grid: noGrid, border: { display: false },
        ticks: { font: { size: 37 }, color: INK, padding: 17, labelOffset: 3 },
        title: { display: true, text: 'uV', font: { size: 40 }, color: INK, padding: 0 },
        afterFit: fixW(104)
      }
    }
  },
  plugins: [{
    id: 'eventText',
    afterDraw(chart) {
      const { ctx, chartArea: a, scales: { x } } = chart;
      ctx.save();
      ctx.font = `33px ${FONT}`;
      ctx.textBaseline = 'middle';
      eventNames.forEach((name, i) => {
        ctx.save();
        ctx.translate(x.getPixelForValue(eventMs[i]) + 4, a.top - 2);
        ctx.rotate(-Math.PI / 4 * 0.98);
        ctx.fillStyle = ['#d36f4f', '#e8be5e'][i];
        ctx.fillText(name, 0, 0);
        ctx.restore();
      });
      ctx.restore();
    }
  }]
});

// ---- continuous data image
mount(stage, { x: 115, y: 847, w: 707, h: 647 }, {
  type: 'bar',
  data: {
    labels: band1.map((_, k) => String(k * 5)),
    datasets: heatBands.map((band, b) => ({
      data: band.map(() => [heatBandEdges[b][0], heatBandEdges[b][1] + 0.02]),
      backgroundColor: band.map(cmap),
      grouped: false, barPercentage: 1.1, categoryPercentage: 1, borderWidth: 0
    }))
  },
  options: {
    layout: { padding: { right: 30 } },
    plugins: {
      title: { display: true, text: 'Continuous Data', fullSize: false, font: { size: 45, weight: 'normal' }, color: INK, padding: { top: 0, bottom: 1 } },
      boxTicks: { color: '#9a9a9a', box: 'b', ticks: '', width: 2 }
    },
    scales: {
      x: {
        afterBuildTicks: setTicks(heatXTicks.map(t => t / 5)),
        grid: noGrid, border: { display: false },
        ticks: { font: { size: 38 }, color: INK, maxRotation: 0, autoSkip: false, padding: 22,
          callback: v => String(v * 5) },
        title: { display: true, text: 'Time (ms)', font: { size: 44 }, color: INK, padding: 0 },
        afterFit: fixH(127)
      },
      y: {
        min: 2.5, max: 11.5, afterBuildTicks: setTicks(heatYTicks),
        grid: noGrid, border: { display: false },
        ticks: { font: { size: 38 }, color: INK, padding: 10, labelOffset: 3 },
        title: { display: true, text: 'Data', font: { size: 44 }, color: INK, padding: 0 },
        afterFit: fixW(111)
      }
    }
  }
});

// ---- colour bar
mount(stage, { x: 847, y: 847, w: 29, h: 647 }, {
  type: 'bar',
  data: {
    labels: ['RMS'],
    datasets: [{
      data: [[cbarTicks[0], cbarTicks[cbarTicks.length - 1]]],
      barPercentage: 1, categoryPercentage: 1, borderWidth: 0,
      backgroundColor: ctx => {
        const { chartArea: a, ctx: c } = ctx.chart;
        if (!a) return '#00ff6e';
        const g = c.createLinearGradient(0, a.bottom, 0, a.top);
        cmapAt.forEach((v, i) => g.addColorStop((v - cmapAt[0]) / (cmapAt[cmapAt.length - 1] - cmapAt[0]), cmap(v)));
        return g;
      }
    }]
  },
  options: {
    layout: { padding: { top: 20, bottom: 20, left: 4 } },
    plugins: { boxTicks: { color: '#333', box: '', ticks: 'lr', len: 5, width: 2, noX: true } },
    scales: {
      x: { display: false },
      y: {
        position: 'right', min: -1.8, max: 1.8, afterBuildTicks: setTicks(cbarTicks),
        grid: noGrid, border: { display: false },
        ticks: { font: { size: 31 }, color: '#333', padding: 13, labelOffset: 3, callback: v => String(v) },
        title: { display: true, text: 'RMS uV per scalp channel', font: { size: 38 }, color: INK, padding: 0 },
        afterFit: fixW(153)
      }
    }
  }
});

// ---- power spectrum
mount(stage, { x: 1601, y: 763, w: 1036, h: 732 }, {
  type: 'line',
  data: {
    datasets: [{
      data: psdHz.map((f, i) => ({ x: f, y: psdPower[i] })),
      borderColor: '#fa0a0a', borderWidth: 6, pointRadius: 0, tension: 0,
      borderJoinStyle: 'round', clip: false
    }]
  },
  options: {
    layout: { padding: { right: 50 } },
    plugins: {
      title: { display: true, text: 'IC13 Activity Power Spectrum', fullSize: false, font: { size: 49, weight: 'normal' }, color: INK, padding: { top: 0, bottom: 4 } },
      boxTicks: { color: '#7a7a7a', len: 28, width: 2, tickColor: '#777' }
    },
    scales: {
      x: {
        type: 'linear', min: 2, max: 30, afterBuildTicks: setTicks(psdXTicks),
        grid: { color: '#e4e4e4', lineWidth: 2, drawTicks: false }, border: { display: false },
        ticks: { font: { size: 44 }, color: INK, maxRotation: 0, autoSkip: false, padding: 21 },
        title: { display: true, text: 'Frequency (Hz)', font: { size: 49 }, color: INK, padding: 0 },
        afterFit: fixH(141)
      },
      y: {
        min: -17.34, max: -8.68, afterBuildTicks: setTicks(psdYTicks),
        grid: { color: '#e4e4e4', lineWidth: 2, drawTicks: false }, border: { display: false },
        ticks: { font: { size: 44 }, color: INK, padding: 18, labelOffset: 4, callback: v => String(v) },
        afterFit: fixW(190)
      }
    }
  },
  plugins: [{
    id: 'powerLabel',
    afterDraw(chart) {
      const { ctx, chartArea: a } = chart;
      const big = 51, small = 35;
      const parts = [['Power 10*log', big, 0], ['10', small, 12], ['(uV', big, 0], ['2', small, -19], ['/Hz)', big, 0]];
      ctx.save();
      ctx.translate(a.left - 142, (a.top + a.bottom) / 2);
      ctx.rotate(-Math.PI / 2);
      ctx.fillStyle = INK;
      ctx.textBaseline = 'alphabetic';
      let total = 0;
      parts.forEach(p => { ctx.font = `${p[1]}px ${FONT}`; total += ctx.measureText(p[0]).width; });
      let pos = -total / 2;
      parts.forEach(p => {
        ctx.font = `${p[1]}px ${FONT}`;
        ctx.fillText(p[0], pos, 17 + p[2]);
        pos += ctx.measureText(p[0]).width;
      });
      ctx.restore();
    }
  }]
});
</script>
</body>
</html>
